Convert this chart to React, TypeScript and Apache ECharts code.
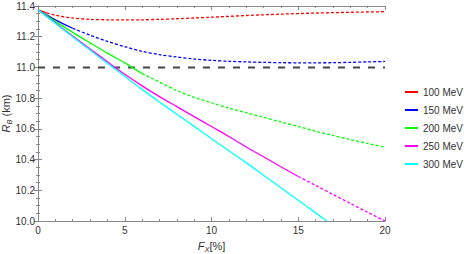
import React, { useEffect, useRef } from "react";
import * as echarts from "echarts";

const xTicks = [0, 5, 10, 15, 20];
const yMin = 10.0;
const yMax = 11.4;
const threshold = 11.0;
const legendNames = ["100 MeV", "150 MeV", "200 MeV", "250 MeV", "300 MeV"];
const colors = ["#ff0000", "#0000ff", "#00ff00", "#ff00ff", "#00ffff"];

const fx100 = [0, 0.5, 1, 2, 3, 4, 5, 6, 7, 8, 9, 10, 12, 14, 16, 18, 20];
const r100 = [11.375, 11.356, 11.34, 11.322, 11.313, 11.31, 11.309, 11.31, 11.313, 11.317, 11.322, 11.327, 11.338, 11.347, 11.354, 11.359, 11.363];

const fx150 = [0, 1, 2, 3, 4, 5, 6, 7, 8, 9, 10, 11, 12, 13, 14, 15, 16, 17, 18, 19, 20];
const r150 = [11.375, 11.31, 11.255, 11.21, 11.17, 11.135, 11.105, 11.083, 11.068, 11.055, 11.046, 11.04, 11.036, 11.033, 11.031, 11.03, 11.03, 11.031, 11.033, 11.036, 11.039];

const fx200 = [0, 1, 2, 3, 4, 5, 6, 7, 8, 9, 10, 11, 12, 13, 14, 15, 16, 17, 18, 19, 20];
const r200 = [11.375, 11.3, 11.228, 11.16, 11.093, 11.03, 10.96, 10.905, 10.85, 10.805, 10.77, 10.735, 10.705, 10.675, 10.645, 10.615, 10.585, 10.557, 10.53, 10.505, 10.48];

const fx250 = [0, 1, 2, 3, 4, 5, 6, 7, 8, 9, 10, 11, 12, 13, 14, 15, 16, 17, 18, 19, 20];
const r250 = [11.375, 11.29, 11.205, 11.12, 11.037, 10.955, 10.88, 10.81, 10.745, 10.68, 10.615, 10.55, 10.482, 10.418, 10.353, 10.29, 10.232, 10.173, 10.115, 10.057, 10.0];

const fx300 = [0, 1, 2, 3, 4, 5, 6, 7, 8, 9, 10, 11, 12, 13, 14, 15, 16, 16.65];
const r300 = [11.375, 11.288, 11.2, 11.113, 11.027, 10.942, 10.857, 10.775, 10.695, 10.616, 10.536, 10.458, 10.38, 10.298, 10.216, 10.135, 10.053, 10.0];

// x value where each curve turns from solid to dashed (null = all solid)
const splitAt = [0.5, 2, 6, 15, null];

const allX = [fx100, fx150, fx200, fx250, fx300];
const allY = [r100, r150, r200, r250, r300];

const FONT = "Liberation Sans";

export default function App() {
  const ref = useRef<HTMLDivElement>(null);
  useEffect(() => {
    if (!ref.current) return;
    const chart = echarts.init(ref.current, undefined, { renderer: "svg" });
    const series: any[] = [];
    allX.forEach((xs, i) => {
      const pts = xs.map((x, j) => [x, allY[i][j]]);
      const s = splitAt[i];
      const solid = s == null ? pts : pts.filter((p) => p[0] <= s);
      const dashed = s == null ? [] : pts.filter((p) => p[0] >= s);
      series.push({
        name: legendNames[i],
        type: "line",
        data: solid,
        smooth: 0.3,
        symbol: "none",
        color: colors[i],
        lineStyle: { width: 1.3, color: colors[i] },
        z: 3,
      });
      if (dashed.length) {
        series.push({
          name: legendNames[i] + " ext",
          type: "line",
          data: dashed,
          smooth: 0.3,
          symbol: "none",
          color: colors[i],
          lineStyle: { width: 1.3, color: colors[i], type: [3, 2] },
          z: 3,
        });
      }
    });
    series.push({
      name: "threshold",
      type: "line",
      data: [
        [xTicks[0], threshold],
        [xTicks[xTicks.length - 1], threshold],
      ],
      symbol: "none",
      lineStyle: { width: 2, color: "#444", type: [7, 8] },
      z: 2,
    });

    const axisCommon = {
      axisLine: { show: true, lineStyle: { color: "#888", width: 1 } },
      axisTick: { show: true, inside: true, length: 4, lineStyle: { color: "#888" } },
      splitLine: { show: false },
    };
    const rich = {
      i: { fontFamily: FONT, fontSize: 11, fontStyle: "italic", color: "#333", lineHeight: 15 },
      s: { fontFamily: FONT, fontSize: 7.5, fontStyle: "italic", color: "#333", lineHeight: 9, verticalAlign: "bottom" },
      n: { fontFamily: FONT, fontSize: 11, color: "#333", lineHeight: 15 },
    };

    chart.setOption({
      animation: false,
      grid: { left: 38, right: 79, top: 6, bottom: 33, outerBoundsMode: "none", containLabel: false },
      legend: {
        data: legendNames,
        orient: "vertical",
        left: 400,
        top: 82,
        icon: "rect",
        itemWidth: 13,
        itemHeight: 2,
        itemGap: 8,
        textStyle: { fontFamily: FONT, fontSize: 10, color: "#333" },
      },
      xAxis: [
        {
          type: "value",
          min: xTicks[0],
          max: xTicks[xTicks.length - 1],
          interval: 5,
          ...axisCommon,
          minorTick: { show: true, splitNumber: 5, length: 2, lineStyle: { color: "#888" } },
          axisLabel: { fontFamily: FONT, fontSize: 10, color: "#333", margin: 4 },
          name: "{i|F}{s|X}{n|[%]}",
          nameLocation: "middle",
          nameGap: 17,
          nameMoveOverlap: false,
          nameTextStyle: { rich },
        },
        {
          type: "value",
          position: "top",
          min: xTicks[0],
          max: xTicks[xTicks.length - 1],
          interval: 5,
          ...axisCommon,
          minorTick: { show: true, splitNumber: 5, length: 2, lineStyle: { color: "#888" } },
          axisLabel: { show: false },
        },
      ],
      yAxis: [
        {
          type: "value",
          min: yMin,
          max: yMax,
          interval: 0.2,
          ...axisCommon,
          minorTick: { show: true, splitNumber: 4, length: 2, lineStyle: { color: "#888" } },
          axisLabel: {
            fontFamily: FONT,
            fontSize: 10,
            color: "#333",
            margin: 3,
            formatter: (v: number) => v.toFixed(1),
          },
          name: "{i|R}{s|B}{n| (km)}",
          nameLocation: "middle",
          nameGap: 25,
          nameMoveOverlap: false,
          nameTextStyle: { rich },
        },
        {
          type: "value",
          position: "right",
          min: yMin,
          max: yMax,
          interval: 0.2,
          ...axisCommon,
          minorTick: { show: true, splitNumber: 4, length: 2, lineStyle: { color: "#888" } },
          axisLabel: { show: false },
        },
      ],
      series,
    });
    return () => chart.dispose();
  }, []);
  return <div ref={ref} style={{ width: 464, height: 254, position: "absolute", left: 0, top: 0 }} />;
}
